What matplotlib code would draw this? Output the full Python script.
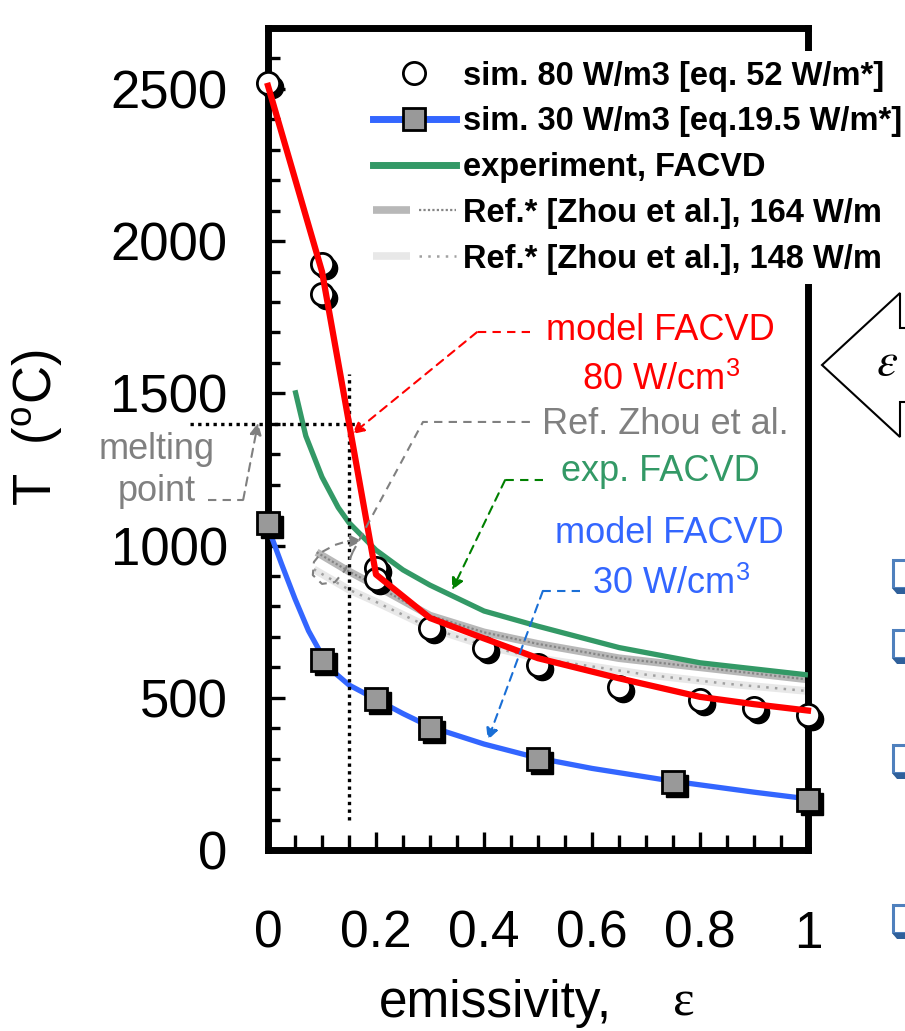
import matplotlib
matplotlib.use('Agg')
import matplotlib.pyplot as plt
from matplotlib import transforms
from matplotlib.lines import Line2D
from matplotlib.legend_handler import HandlerTuple
from matplotlib.patches import Polygon, Rectangle
from matplotlib.ticker import MultipleLocator

plt.rcParams['font.family'] = ['Liberation Sans', 'DejaVu Sans']
plt.rcParams['mathtext.fontset'] = 'stix'

# ---------------- data ----------------
sim80_x = [0, 0.1, 0.1, 0.2, 0.2, 0.3, 0.4, 0.5, 0.65, 0.8, 0.9, 1.0]
sim80_T = [2520, 1925, 1825, 925, 890, 730, 665, 607, 535, 492, 465, 443]

model80_x = [0, 0.1, 0.2, 0.3, 0.4, 0.5, 0.65, 0.8, 0.9, 1.0]
model80_T = [2510, 1900, 905, 762, 695, 630, 564, 503, 479, 458]

sim30_x = [0, 0.1, 0.2, 0.3, 0.5, 0.75, 1.0]
sim30_T = [1075, 623, 497, 402, 300, 225, 165]

model30_x = [0, 0.025, 0.05, 0.075, 0.1, 0.125, 0.15, 0.2, 0.25, 0.3, 0.4, 0.5, 0.6, 0.75, 0.9, 1.0]
model30_T = [1060, 940, 825, 720, 640, 580, 542, 495, 448, 405, 348, 302, 268, 226, 190, 168]

exp_x = [0.05, 0.07, 0.1, 0.13, 0.15, 0.2, 0.25, 0.3, 0.4, 0.5, 0.65, 0.8, 1.0]
exp_T = [1510, 1360, 1225, 1125, 1075, 985, 920, 870, 785, 735, 665, 615, 575]

ref164_x = [0.09, 0.15, 0.2, 0.3, 0.4, 0.5, 0.65, 0.8, 1.0]
ref164_T = [978, 915, 868, 770, 715, 677, 630, 600, 560]

ref148_x = [0.085, 0.15, 0.2, 0.3, 0.4, 0.5, 0.7, 0.85, 1.0]
ref148_T = [922, 855, 815, 730, 672, 630, 576, 546, 522]

melting_T = 1400
melting_eps = 0.15

x_ticks = [0, 0.2, 0.4, 0.6, 0.8, 1.0]
x_ticklabels = ['0', '0.2', '0.4', '0.6', '0.8', '1']
y_ticks = [0, 500, 1000, 1500, 2000, 2500]

legend_labels = ['sim. 80 W/m3 [eq. 52 W/m*]',
                 'sim. 30 W/m3 [eq.19.5 W/m*]',
                 'experiment, FACVD',
                 'Ref.* [Zhou et al.], 164 W/m',
                 'Ref.* [Zhou et al.], 148 W/m']

RED = '#ff0000'
GREEN = '#339966'
BLUE = '#3366ff'
GRAY = '#808080'

W, H = 905, 1031
fig = plt.figure(figsize=(W / 100, H / 100), dpi=100)
ax = fig.add_axes([268 / W, 1 - 850 / H, 540 / W, 822 / H])
ax.set_xlim(0, 1)
ax.set_ylim(0, 2700)

# ---------------- reference bands ----------------
ax.plot(ref148_x, ref148_T, color='#e8e8e8', lw=5.5, solid_capstyle='butt', zorder=2)
ax.plot(ref148_x, ref148_T, color='#a0a0a0', lw=1.8, ls=(0, (1, 2.5)), zorder=2.1)
ax.plot(ref164_x, ref164_T, color='#b8b8b8', lw=5.5, solid_capstyle='butt', zorder=2.2)
ax.plot(ref164_x, ref164_T, color='#858585', lw=1.6, ls=(0, (1, 1)), zorder=2.3)

# ---------------- experiment ----------------
ax.plot(exp_x, exp_T, color=GREEN, lw=3.8, zorder=3, solid_capstyle='butt')

# ---------------- 30 W model + sim ----------------
shadow = transforms.offset_copy(ax.transData, fig=fig, x=4, y=-4, units='dots')
ax.plot(model30_x, model30_T, color=BLUE, lw=3.8, zorder=3, clip_on=False)
ax.plot(sim30_x, sim30_T, ls='none', marker='s', ms=16, mfc='black', mec='black',
        transform=shadow, zorder=3.5, clip_on=False)
ax.plot(sim30_x, sim30_T, ls='none', marker='s', ms=16, mfc='#999999', mec='black',
        mew=2, zorder=4, clip_on=False)

# ---------------- 80 W sim + model ----------------
ax.plot(sim80_x, sim80_T, ls='none', marker='o', ms=16, mfc='black', mec='black',
        transform=shadow, zorder=3.5, clip_on=False)
ax.plot(sim80_x, sim80_T, ls='none', marker='o', ms=16, mfc='white', mec='black',
        mew=2, zorder=4, clip_on=False)
ax.plot(model80_x, model80_T, color=RED, lw=4.5, zorder=5, clip_on=False)

# ---------------- melting point guide lines ----------------
ax.plot([-0.144, 0.17], [melting_T, melting_T], color='black', lw=2.4,
        ls=(0, (1, 1.3)), zorder=4.5, clip_on=False)
ax.plot([melting_eps, melting_eps], [100, 1565], color='black', lw=2.4,
        ls=(0, (1, 1.3)), zorder=4.5, clip_on=False)

# ---------------- annotations ----------------
DASH = (0, (4, 3))


def dashed_arrow(pts, color):
    xs = [p[0] for p in pts[:-1]]
    ys = [p[1] for p in pts[:-1]]
    if len(xs) > 1:
        ax.plot(xs, ys, color=color, lw=1.5, ls=DASH, zorder=6, clip_on=False)
    ax.annotate('', xy=pts[-1], xytext=pts[-2],
                arrowprops=dict(arrowstyle='-|>,head_length=0.7,head_width=0.35',
                                color=color, lw=1.5, ls=DASH,
                                shrinkA=0, shrinkB=0),
                zorder=6, annotation_clip=False)


afs = 26
ax.text(0.726, 1708, 'model FACVD', color=RED, fontsize=afs, ha='center', va='center')
ax.text(0.728, 1544, r'80 W/cm$^{\mathregular{3}}$', color=RED, fontsize=afs, ha='center', va='center')
dashed_arrow([(0.485, 1701), (0.387, 1701), (0.156, 1366)], RED)

ax.text(0.735, 1396, 'Ref. Zhou et al.', color=GRAY, fontsize=afs, ha='center', va='center')
ax.plot([0.485, 0.287, 0.157], [1406, 1406, 979], color=GRAY, lw=1.5, ls=DASH,
        zorder=6, clip_on=False)
loop = [(0.157, 979), (0.143, 920), (0.124, 880), (0.100, 874), (0.083, 903),
        (0.085, 946), (0.100, 979), (0.124, 1002), (0.148, 1015), (0.174, 1015)]
dashed_arrow(loop, GRAY)

ax.text(0.726, 1242, 'exp. FACVD', color=GREEN, fontsize=afs, ha='center', va='center')
dashed_arrow([(0.509, 1215), (0.439, 1215), (0.341, 854)], '#008000')

ax.text(0.744, 1041, 'model FACVD', color=BLUE, fontsize=afs, ha='center', va='center')
ax.text(0.746, 877, r'30 W/cm$^{\mathregular{3}}$', color=BLUE, fontsize=afs, ha='center', va='center')
dashed_arrow([(0.578, 851), (0.509, 851), (0.407, 361)], '#1a6fd6')

ax.text(-0.206, 1314, 'melting', color=GRAY, fontsize=afs, ha='center', va='center')
ax.text(-0.206, 1176, 'point', color=GRAY, fontsize=afs, ha='center', va='center')
dashed_arrow([(-0.111, 1150), (-0.046, 1150), (-0.0185, 1403)], GRAY)

# ---------------- axes styling ----------------
for s in ax.spines.values():
    s.set_linewidth(5)
ax.set_xticks(x_ticks)
ax.set_xticklabels(x_ticklabels)
ax.set_yticks(y_ticks)
ax.xaxis.set_minor_locator(MultipleLocator(0.05))
ax.yaxis.set_minor_locator(MultipleLocator(100))
ax.tick_params(axis='x', which='major', direction='in', length=13, width=2.4,
               labelsize=37, pad=43, top=False)
ax.tick_params(axis='x', which='minor', direction='in', length=10.5, width=2.4, top=False)
ax.tick_params(axis='y', which='major', direction='in', length=12, width=2.4,
               labelsize=38, pad=29, right=False)
ax.tick_params(axis='y', which='minor', direction='in', length=8.5, width=2.4, right=False)

fig.text(495 / W, 1 - 1003 / H, 'emissivity,', fontsize=37, ha='center', va='center')
fig.text(684 / W, 1 - 1003 / H, 'ε', fontsize=37, ha='center', va='center',
         family=['Liberation Serif', 'DejaVu Serif'])
fig.text(38 / W, 1 - 427 / H, r'T  ($^{\mathregular{o}}$C)', fontsize=38, rotation=90,
         ha='center', va='center')

# ---------------- legend ----------------
h1 = Line2D([], [], ls='none', marker='o', ms=16, mfc='white', mec='black', mew=2)
h2 = Line2D([], [], color=BLUE, lw=5, marker='s', ms=16, mfc='#999999', mec='black', mew=2)
h3 = Line2D([], [], color=GREEN, lw=5)
h4 = (Line2D([], [], color='#b8b8b8', lw=5.5, solid_capstyle='butt'),
      Line2D([], [], color='#858585', lw=1.6, ls=(0, (1, 1))))
h5 = (Line2D([], [], color='#e8e8e8', lw=5.5, solid_capstyle='butt'),
      Line2D([], [], color='#a0a0a0', lw=1.8, ls=(0, (1, 2.5))))
leg = ax.legend([h1, h2, h3, h4, h5], legend_labels, loc='upper left',
                bbox_to_anchor=((363 - 268) / 540, (850 - 51) / 822),
                bbox_transform=ax.transAxes, frameon=True, facecolor='white',
                edgecolor='none', framealpha=1, fancybox=False,
                prop=dict(weight='bold', size=23.5), handlelength=2.55,
                handletextpad=0.2, labelspacing=0.45, borderpad=0.3,
                borderaxespad=0, handler_map={tuple: HandlerTuple(ndivide=None)})
leg.set_zorder(10)

# ---------------- cropped slide elements at right edge ----------------
def fx(px):
    return px / W


def fy(py):
    return 1 - py / H


arrow_pts = [(822, 365), (900, 293), (900, 328), (960, 328), (960, 402),
             (900, 402), (900, 437)]
fig.patches.append(Polygon([(fx(a), fy(b)) for a, b in arrow_pts], closed=True,
                           facecolor='white', edgecolor='black', lw=1.5,
                           transform=fig.transFigure, figure=fig))
fig.text(fx(876), fy(363), r'$\varepsilon$', fontsize=34, ha='left', va='center')

for top in [560, 630, 745, 905]:
    fig.patches.append(Rectangle((fx(893), fy(top + 28)), 40 / W, 28 / H, fill=False,
                                 edgecolor='#4f80bd', lw=2.2,
                                 transform=fig.transFigure, figure=fig))
    fig.patches.append(Polygon([(fx(892), fy(top + 28)), (fx(950), fy(top + 28)),
                                (fx(950), fy(top + 34)), (fx(897), fy(top + 34))],
                               closed=True, facecolor='#2f609b', edgecolor='none',
                               transform=fig.transFigure, figure=fig))

fig.savefig('out.png', dpi=100)
